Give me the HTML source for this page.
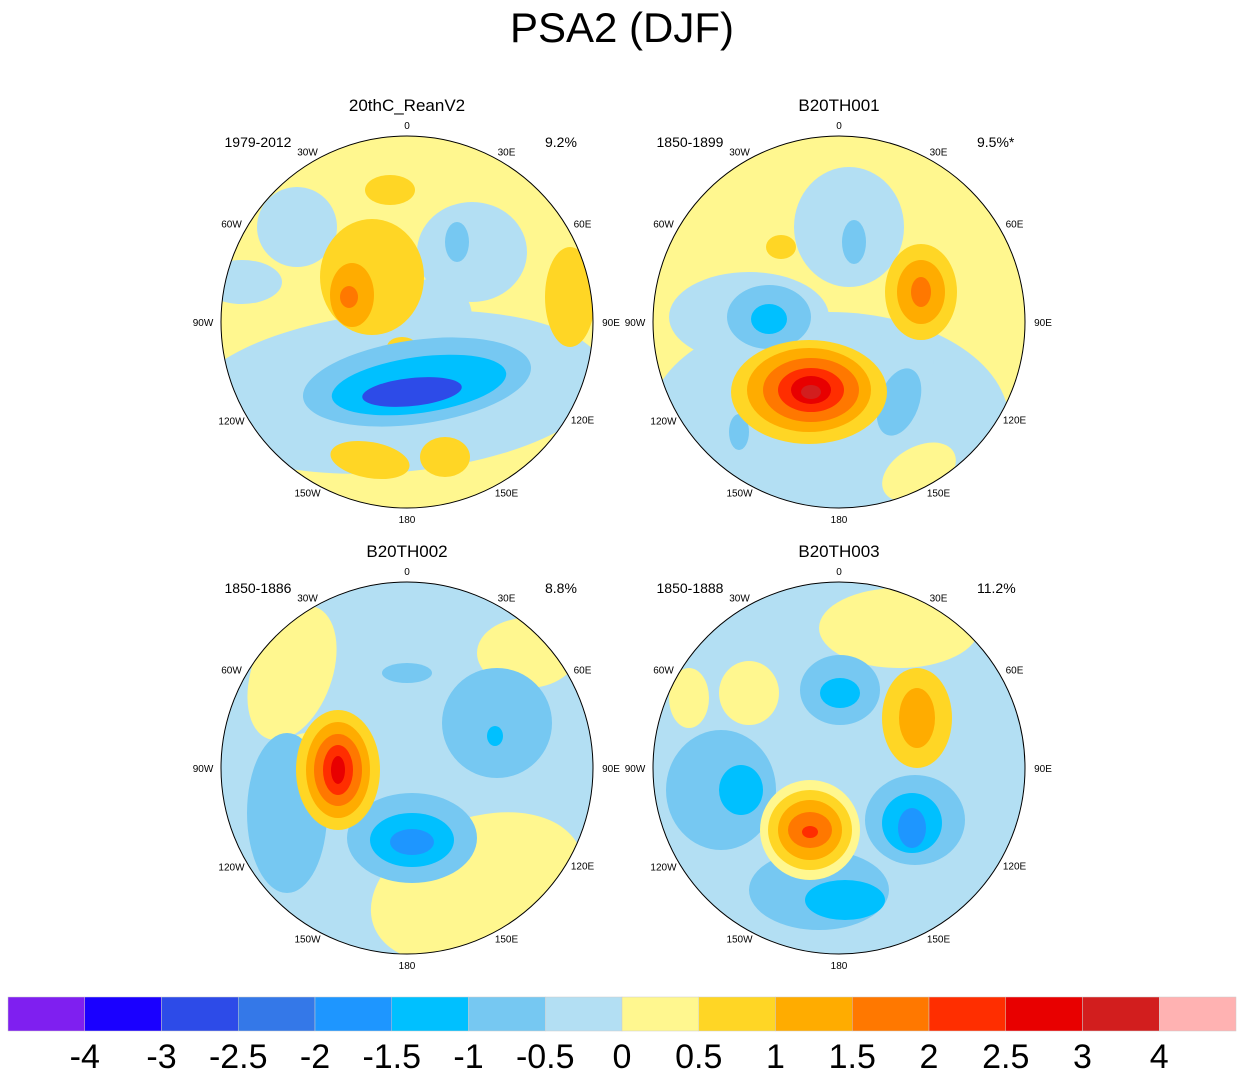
<!DOCTYPE html>
<html><head><meta charset="utf-8">
<style>
body{margin:0;background:#fff;width:1244px;height:1078px;overflow:hidden;font-family:"Liberation Sans",sans-serif}
svg{position:absolute;left:0;top:0}
</style></head>
<body>
<svg id="chart" width="1244" height="1078" font-family="Liberation Sans, sans-serif">
<text x="622" y="42" text-anchor="middle" font-size="42">PSA2 (DJF)</text>
</svg>
<script>
const palette=['#7f1ff0','#1a00ff','#2d4be8','#3478e8','#1e96ff','#00c0ff','#76c8f2','#b3dff3','#fff78f','#ffd625','#ffac00','#ff7800','#ff2e00','#e80000','#d21e1e','#ffb2b2'];
const tickLabels=['-4','-3','-2.5','-2','-1.5','-1','-0.5','0','0.5','1','1.5','2','2.5','3','4'];
const panelTitles=['20thC_ReanV2','B20TH001','B20TH002','B20TH003'];
const panelYears=['1979-2012','1850-1899','1850-1886','1850-1888'];
const panelPct=['9.2%','9.5%*','8.8%','11.2%'];
const panelBg=[8,8,7,7];
const lonLabels=['0','30E','60E','90E','120E','150E','180','150W','120W','90W','60W','30W'];
// blobs: [dx, dy, rx, ry, rotation, colorIndex] relative to panel centre
const blobs0=[[-10,70,210,80,-5,7],[65,-70,55,50,0,7],[-110,-95,40,40,0,7],[-165,-40,40,22,0,7],[25,-5,40,38,0,7],
[-35,-45,52,58,0,9],[-17,-132,25,15,0,9],[163,-25,25,50,0,9],[-37,138,40,18,10,9],[38,135,25,20,0,9],[-5,25,15,10,0,9],
[-55,-27,22,32,0,10],[-58,-25,9,11,0,11],[50,-80,12,20,0,6],
[10,60,115,42,-8,6],[12,63,88,28,-8,5],[5,70,50,14,-6,2]];
const blobs1=[[-10,100,180,110,0,7],[-90,-5,80,45,0,7],[10,-95,55,60,0,7],[65,40,30,40,0,7],
[-70,-5,42,32,0,6],[-70,-3,18,15,0,5],[15,-80,12,22,0,6],[60,80,20,35,20,6],[-100,110,10,18,0,6],
[-30,70,78,52,0,9],[-30,68,62,42,0,10],[-28,68,48,32,0,11],[-28,68,33,22,0,12],[-28,68,20,14,0,13],[-28,70,10,7,0,14],
[82,-30,36,48,0,9],[82,-30,24,32,0,10],[82,-30,10,15,0,11],[-58,-75,15,12,0,9],[80,150,40,25,-30,8]];
const blobs2=[[-115,-95,40,70,20,8],[120,-115,50,35,0,8],[70,120,110,70,-20,8],[-100,-20,20,15,0,8],
[-120,45,40,80,0,6],[5,70,65,45,0,6],[5,72,42,27,0,5],[5,74,22,13,0,4],[90,-45,55,55,0,6],[88,-32,8,10,0,5],[0,-95,25,10,0,6],
[-69,2,42,60,0,9],[-69,2,32,48,0,10],[-69,2,24,36,0,11],[-69,2,15,25,0,12],[-69,2,7,14,0,13]];
const blobs3=[[-90,-75,30,32,0,8],[60,-140,80,40,0,8],[-150,-70,20,30,0,8],
[78,-50,35,50,0,9],[78,-50,18,30,0,10],[1,-78,40,35,0,6],[1,-75,20,15,0,5],
[-118,22,55,60,0,6],[-98,22,22,25,0,5],[76,52,50,45,0,6],[73,55,30,30,0,5],[73,60,14,20,0,4],
[-20,122,70,40,0,6],[6,132,40,20,0,5],
[-29,62,50,50,0,8],[-29,62,42,40,0,9],[-29,62,32,30,0,10],[-29,62,22,18,0,11],[-29,64,8,6,0,12]];
const allBlobs=[blobs0,blobs1,blobs2,blobs3];
const centers=[[407,322],[839,322],[407,768],[839,768]];
const R=186;
const NS='http://www.w3.org/2000/svg';
const svg=document.getElementById('chart');
function mk(tag,attrs,parent){const e=document.createElementNS(NS,tag);for(const k in attrs)e.setAttribute(k,attrs[k]);(parent||svg).appendChild(e);return e;}
const defs=mk('defs',{});
centers.forEach((c,p)=>{
  const cx=c[0],cy=c[1];
  const cp=mk('clipPath',{id:'clip'+p},defs);
  mk('circle',{cx:cx,cy:cy,r:R},cp);
  const g=mk('g',{'clip-path':'url(#clip'+p+')'});
  
  
  mk('rect',{x:cx-R,y:cy-R,width:2*R,height:2*R,fill:palette[panelBg[p]]},g);
  allBlobs[p].forEach(b=>{
    const e=mk('ellipse',{cx:cx+b[0],cy:cy+b[1],rx:b[2],ry:b[3],transform:'rotate('+b[4]+' '+(cx+b[0])+' '+(cy+b[1])+')',fill:palette[b[5]]},g);
    
    
  });
  const ol=mk('circle',{cx:cx,cy:cy,r:R,fill:'none',stroke:'#000','stroke-width':1});
  
  
  lonLabels.forEach((l,i)=>{
    const a=i*30*Math.PI/180;
    const sx=Math.sin(a),cy2=Math.cos(a);
    const rr=R+8+10*Math.abs(sx);
    const t=mk('text',{x:cx+rr*sx,y:cy-(R+9)*cy2+4+ (Math.abs(cy2)>0.5?-cy2*2:0),'text-anchor':'middle','font-size':10});
    t.textContent=l;
    
    
  });
  let t=mk('text',{x:cx,y:cy-R-25,'text-anchor':'middle','font-size':17});t.textContent=panelTitles[p];
  
  
  t=mk('text',{x:cx-149,y:cy-175,'text-anchor':'middle','font-size':14});t.textContent=panelYears[p];
  
  
  t=mk('text',{x:cx+138,y:cy-175,'text-anchor':'start','font-size':14});t.textContent=panelPct[p];
  
  
});
const x0=8,w=(1236-8)/palette.length;
palette.forEach((col,i)=>{
  const r=mk('rect',{x:x0+i*w,y:997,width:w,height:34,fill:col,stroke:'#ccc','stroke-width':0.5});
  
  
});
tickLabels.forEach((l,i)=>{
  const t=mk('text',{x:x0+(i+1)*w,y:1068,'text-anchor':'middle','font-size':34});
  t.textContent=l;
  
  
});
</script>
</body></html>
